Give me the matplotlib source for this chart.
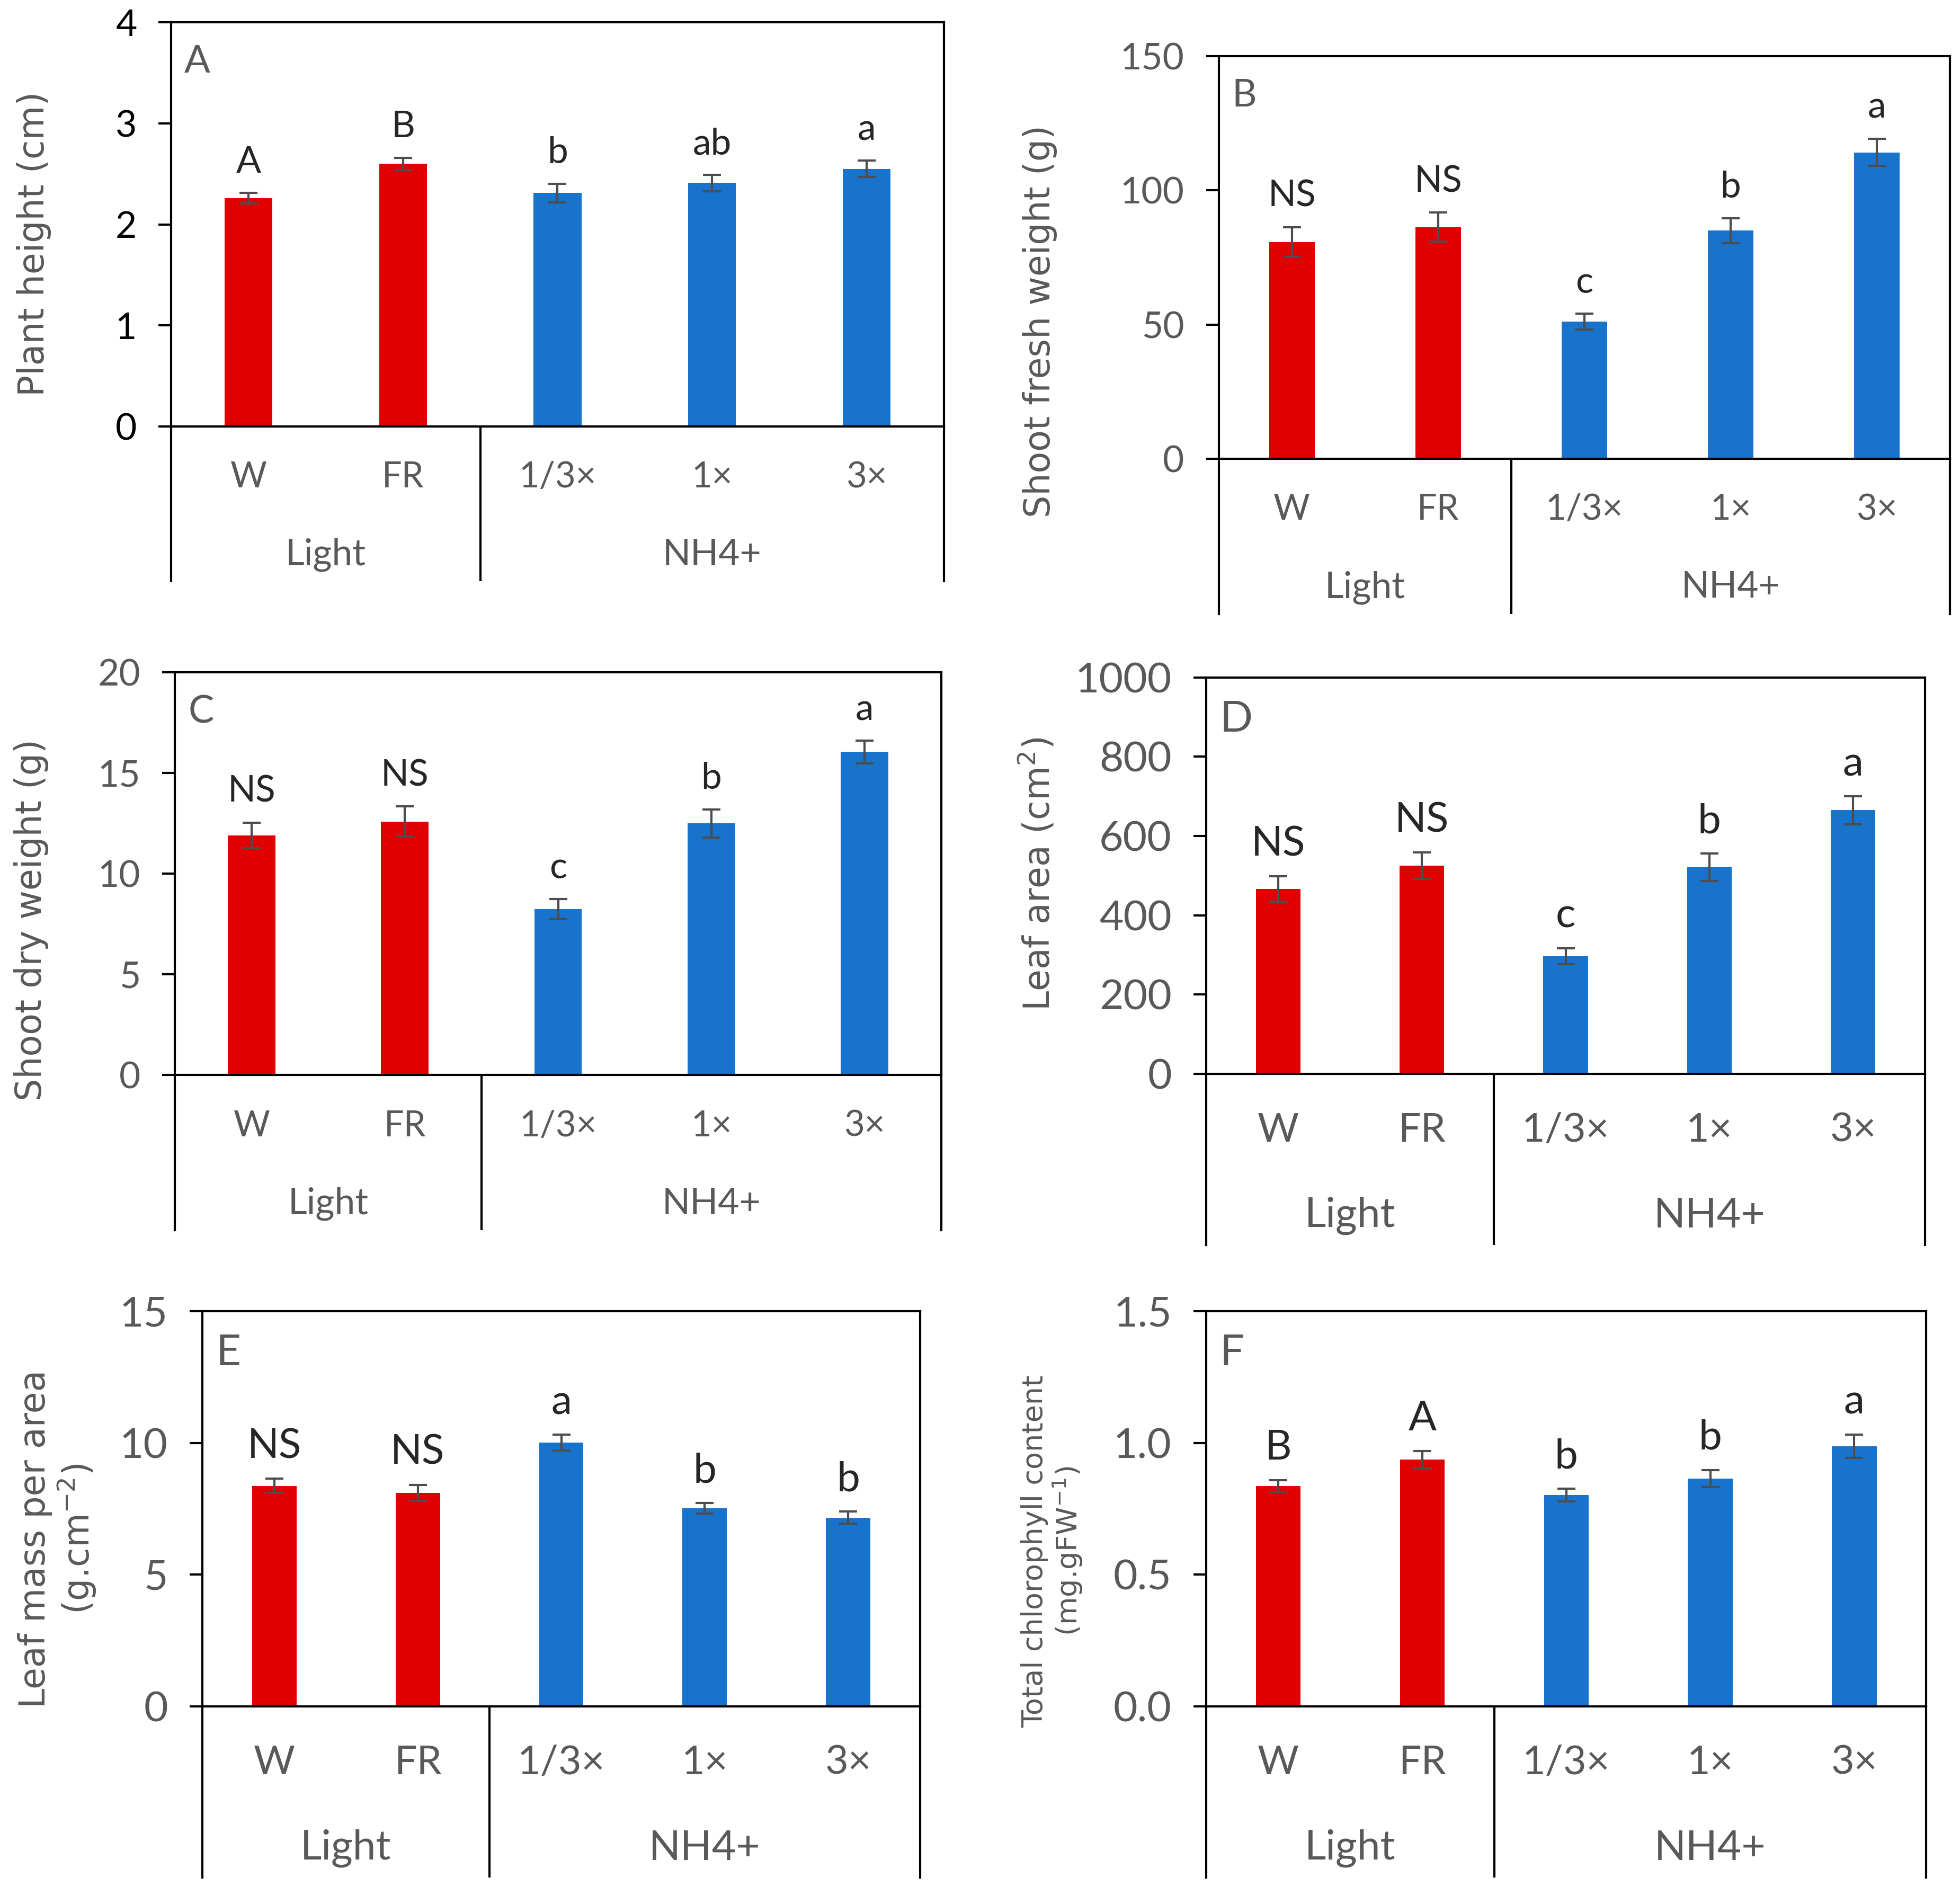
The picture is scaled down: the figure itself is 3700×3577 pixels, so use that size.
import matplotlib
matplotlib.use('Agg')
import matplotlib.pyplot as plt
from matplotlib.ticker import MultipleLocator, FormatStrFormatter

# data
categories = ['W', 'FR', '1/3×', '1×', '3×']
groups = ['Light', 'NH4+']
group_sizes = [2, 3]

height_mean = [2.26, 2.60, 2.31, 2.41, 2.55]
height_err = [0.05, 0.06, 0.09, 0.08, 0.08]
height_sig = ['A', 'B', 'b', 'ab', 'a']

fresh_mean = [80.8, 86.3, 51.1, 85.0, 114.2]
fresh_err = [5.5, 5.4, 3.0, 4.6, 5.1]
fresh_sig = ['NS', 'NS', 'c', 'b', 'a']

dry_mean = [11.9, 12.6, 8.25, 12.5, 16.05]
dry_err = [0.64, 0.75, 0.5, 0.7, 0.56]
dry_sig = ['NS', 'NS', 'c', 'b', 'a']

area_mean = [466, 525, 297, 521, 665]
area_err = [32, 33, 20, 35, 35]
area_sig = ['NS', 'NS', 'c', 'b', 'a']

lma_mean = [8.37, 8.11, 10.01, 7.52, 7.16]
lma_err = [0.27, 0.30, 0.30, 0.20, 0.23]
lma_sig = ['NS', 'NS', 'a', 'b', 'b']

chl_mean = [0.837, 0.936, 0.802, 0.865, 0.987]
chl_err = [0.022, 0.033, 0.024, 0.032, 0.045]
chl_sig = ['B', 'A', 'b', 'b', 'a']

RED = '#E00000'
BLUE = '#1773CB'
GREY = '#595959'
W_IMG, H_IMG = 1568.0, 1516.0  # size of the preview the layout was measured on

fig = plt.figure(figsize=(37, 35.77), dpi=100)


def fx(x):
    return x / W_IMG


def fy(y):
    return 1 - y / H_IMG


def panel(box, mean, err, sig, ymax, step, letter, ylabel, lab_xy,
          lab_size=48, scale=1.0, tick_color=GREY, fmt='%d'):
    left, right, top, zero, bottom = box
    ax = fig.add_axes([fx(left), fy(zero), fx(right) - fx(left), fy(top) - fy(zero)])
    x = range(len(categories))
    colors = [RED] * group_sizes[0] + [BLUE] * group_sizes[1]
    ax.bar(x, mean, width=0.31, color=colors, zorder=2)
    ax.errorbar(x, mean, yerr=err, fmt='none', ecolor='#4d4d4d', elinewidth=3,
                capsize=12, capthick=3, zorder=3)
    for i in x:
        ax.annotate(sig[i], xy=(i, mean[i] + err[i]), xytext=(0, 28),
                    textcoords='offset points', ha='center', va='baseline',
                    fontsize=50 * scale, family='Lato', color='#262626')
    ax.set_xlim(-0.5, len(categories) - 0.5)
    ax.set_ylim(0, ymax)
    ax.yaxis.set_major_locator(MultipleLocator(step))
    ax.yaxis.set_major_formatter(FormatStrFormatter(fmt))
    ax.set_xticks([])
    ax.tick_params(axis='y', direction='out', length=17, width=3,
                   labelsize=50 * scale, labelcolor=tick_color, pad=30)
    for lab in ax.get_yticklabels():
        lab.set_family('Lato')
    for s in ax.spines.values():
        s.set_linewidth(3)
    ax.annotate(letter, xy=(0, 1), xycoords='axes fraction', xytext=(18, -30),
                textcoords='offset points', ha='left', va='top',
                fontsize=52 * scale, family='Lato', color=GREY)

    # category table under the bars
    tb = fig.add_axes([fx(left), fy(bottom), fx(right) - fx(left), fy(zero) - fy(bottom)])
    tb.set_xlim(-0.5, len(categories) - 0.5)
    tb.set_ylim(0, 1)
    tb.spines['top'].set_visible(False)
    tb.spines['bottom'].set_visible(False)
    for s in ('left', 'right'):
        tb.spines[s].set_linewidth(3)
    tb.set_xticks([])
    tb.set_yticks([])
    tb.patch.set_alpha(0)
    tb.axvline(group_sizes[0] - 0.5, color='black', lw=3)
    for i, c in enumerate(categories):
        tb.text(i, 0.67, c, ha='center', va='center', fontsize=48 * scale,
                family='Lato', color=GREY)
    start = 0
    for g, n in zip(groups, group_sizes):
        tb.text(start + (n - 1) / 2, 0.17, g, ha='center', va='center',
                fontsize=50 * scale, family='Lato', color=GREY)
        start += n

    fig.text(fx(lab_xy[0]), fy(lab_xy[1]), ylabel, rotation=90, ha='center',
             va='center', fontsize=lab_size, color=GREY, family='DejaVu Sans',
             multialignment='center', linespacing=1.1)
    return ax


panel((137, 755, 18, 341, 465), height_mean, height_err, height_sig, 4, 1, 'A',
      'Plant height (cm)', (27, 195), tick_color='black')
panel((975, 1560, 45, 367, 491), fresh_mean, fresh_err, fresh_sig, 150, 50, 'B',
      'Shoot fresh weight (g)', (832, 257))
panel((140, 753, 538, 860, 984), dry_mean, dry_err, dry_sig, 20, 5, 'C',
      'Shoot dry weight (g)', (25, 736))
panel((965, 1540, 542, 859, 996), area_mean, area_err, area_sig, 1000, 200, 'D',
      'Leaf area (cm$^{2}$)', (830, 699), scale=1.13)
panel((162, 736, 1049, 1365, 1502), lma_mean, lma_err, lma_sig, 15, 5, 'E',
      'Leaf mass per area\n(g.cm$^{-2}$)', (46, 1231), scale=1.13)
panel((965, 1541, 1049, 1365, 1502), chl_mean, chl_err, chl_sig, 1.5, 0.5, 'F',
      'Total chlorophyll content\n(mg.gFW$^{-1}$)', (842, 1241), lab_size=39,
      scale=1.13, fmt='%.1f')

fig.savefig('out.png', dpi=100, facecolor='white')
